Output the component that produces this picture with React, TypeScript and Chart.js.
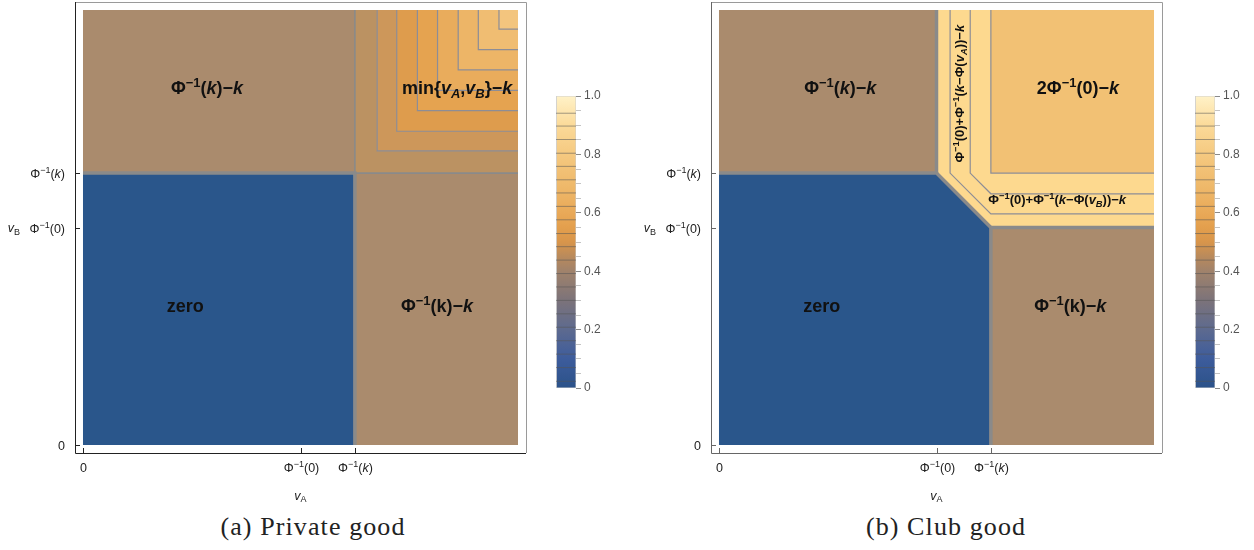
import React, { useEffect, useRef } from 'react';
import { Chart, registerables } from 'chart.js';
Chart.register(...registerables);

const SANS = '"Liberation Sans", Arial, sans-serif';

// ---------- axes (data space 0..8 in both directions) ----------
const axisRange = [-0.147, 8.147];
const tickValues = [0, 4, 5];
const xTickLabels = ['0', 'Φ^{−1}(0)', 'Φ^{−1}(*k*)'];
const yTickLabels = ['0', 'Φ^{−1}(0)', 'Φ^{−1}(*k*)'];
const xAxisTitle = '*v*_{A}';
const yAxisTitle = '*v*_{B}';

// ---------- (a) private good ----------
const privBackground = [[0, 0], [8, 0], [8, 8], [0, 8]];
const privZero = [[0, 0], [5, 0], [5, 5], [0, 5]];
const privMinLevels = [5.0, 5.41, 5.77, 6.15, 6.52, 6.9, 7.27, 7.65];
const privBoundary = [[0, 5], [5, 5], [5, 0]];
const privSeam = [[5, 8], [5, 5], [8, 5]];
const privLabelText = ['Φ^{−1}(*k*)−*k*', 'min{*v*_{*A*},*v*_{*B*}}−*k*', 'zero', 'Φ^{−1}(k)−*k*'];
const privLabelX = [2.28, 6.88, 1.88, 6.51];
const privLabelY = [6.57, 6.57, 2.57, 2.57];

// ---------- (b) club good ----------
const clubBackground = [[0, 0], [8, 0], [8, 8], [0, 8]];
const clubBand = [[4, 8], [4, 5], [5, 4], [8, 4], [8, 8]];
const clubTop = [[5, 5], [8, 5], [8, 8], [5, 8]];
const clubZero = [[0, 0], [5, 0], [5, 4], [4, 5], [0, 5]];
const clubContours = [
  [[4.25, 8], [4.25, 5], [5, 4.25], [8, 4.25]],
  [[4.62, 8], [4.62, 5], [5, 4.62], [8, 4.62]],
  [[5, 8], [5, 5], [8, 5]],
];
const clubBoundaries = [
  [[0, 5], [4, 5], [5, 4], [5, 0]],
  [[4, 8], [4, 5]],
  [[5, 4], [8, 4]],
];
const clubLabelText = [
  'Φ^{−1}(*k*)−*k*',
  '2Φ^{−1}(0)−*k*',
  'zero',
  'Φ^{−1}(k)−*k*',
  'Φ^{−1}(0)+Φ^{−1}(*k*−Φ(*v*_{*A*}))−*k*',
  'Φ^{−1}(0)+Φ^{−1}(*k*−Φ(*v*_{*B*}))−*k*',
];
const clubLabelX = [2.23, 6.6, 1.89, 6.46, 4.42, 6.22];
const clubLabelY = [6.57, 6.57, 2.57, 2.57, 6.46, 4.52];

// ---------- colour bar ----------
const colorbarLevels = [0.023, 0.07, 0.116, 0.162, 0.208, 0.254, 0.3, 0.346, 0.392, 0.438, 0.484,
  0.529, 0.576, 0.622, 0.668, 0.713, 0.759, 0.804, 0.851, 0.897, 0.941];
const colorbarStops: [number, string][] = [
  [0, '#2b5289'], [0.1, '#3d5c9c'], [0.2, '#5d6a8f'], [0.3, '#7c737a'], [0.4, '#a0826b'],
  [0.45, '#b98a5c'], [0.5, '#d8954b'], [0.55, '#e39f4d'], [0.6, '#e9a958'], [0.7, '#efba6c'],
  [0.8, '#f5c980'], [0.9, '#fbda99'], [1, '#fff2c8'],
];

// ---------- styles ----------
const BLUE = '#2a568b';
const BROWN = '#aa8b6d';
const privMinColors = ['#bb9262', '#cd975a', '#de9c4d', '#e5a350', '#e9ac5c', '#edb567', '#f0bd72', '#f3c57e'];
const CLUB_BAND = '#fdd98f';
const CLUB_TOP = '#f2c174';
const CONTOUR = '#8d8d96';
const EDGE = '#8a8a8a';

type Seg = { t: string; it: boolean; sup: boolean; sub: boolean };
function parseRich(s: string): Seg[] {
  const segs: Seg[] = [];
  let it = false;
  let mode = '';
  let buf = '';
  const push = () => {
    if (buf) segs.push({ t: buf, it, sup: mode === 'sup', sub: mode === 'sub' });
    buf = '';
  };
  for (let i = 0; i < s.length; i++) {
    const c = s[i];
    if ((c === '^' || c === '_') && s[i + 1] === '{') { push(); mode = c === '^' ? 'sup' : 'sub'; i++; continue; }
    if (c === '}' && mode) { push(); mode = ''; continue; }
    if (c === '*') { push(); it = !it; continue; }
    buf += c;
  }
  push();
  return segs;
}

function drawRich(ctx: any, s: string, x: number, y: number, size: number, o: any = {}) {
  const segs = parseRich(s);
  const small = size * 0.72;
  const font = (sg: Seg) => `${sg.it ? 'italic ' : ''}${o.bold ? 'bold ' : ''}${sg.sup || sg.sub ? small : size}px ${SANS}`;
  let w = 0;
  for (const sg of segs) { ctx.font = font(sg); w += ctx.measureText(sg.t).width; }
  ctx.save();
  ctx.translate(x, y);
  if (o.rotate) ctx.rotate(o.rotate);
  ctx.fillStyle = o.color || '#111';
  ctx.textBaseline = 'alphabetic';
  ctx.textAlign = 'left';
  let cx = o.align === 'center' ? -w / 2 : o.align === 'right' ? -w : 0;
  const base = size * 0.36;
  for (const sg of segs) {
    ctx.font = font(sg);
    const dy = sg.sup ? -size * 0.4 : sg.sub ? size * 0.22 : 0;
    ctx.fillText(sg.t, cx, base + dy);
    cx += ctx.measureText(sg.t).width;
  }
  ctx.restore();
}

const pts = (p: number[][]) => p.map(([x, y]) => ({ x, y }));
const poly = (p: number[][], color: string) => ({
  data: pts(p), showLine: true, fill: 'shape', backgroundColor: color,
  borderColor: 'rgba(0,0,0,0)', borderWidth: 0, pointRadius: 0,
});
const line = (p: number[][], color: string, width: number) => ({
  data: pts(p), showLine: true, fill: false, borderColor: color, borderWidth: width, pointRadius: 0,
});

function privDatasets() {
  const ds: any[] = [poly(privBackground, BROWN)];
  privMinLevels.forEach((l, i) => ds.push(poly([[l, l], [8, l], [8, 8], [l, 8]], privMinColors[i])));
  ds.push(poly(privZero, BLUE));
  privMinLevels.slice(1).forEach((l) => ds.push(line([[8, l], [l, l], [l, 8]], CONTOUR, 1.2)));
  ds.push(line(privSeam, EDGE, 1.6));
  ds.push(line(privBoundary, EDGE, 3.5));
  return ds;
}

function clubDatasets() {
  const ds: any[] = [poly(clubBackground, BROWN), poly(clubBand, CLUB_BAND), poly(clubTop, CLUB_TOP), poly(clubZero, BLUE)];
  clubContours.forEach((c) => ds.push(line(c, CONTOUR, 1.2)));
  clubBoundaries.forEach((c) => ds.push(line(c, EDGE, 3.5)));
  return ds;
}

function Panel({ left, build, labelText, labelX, labelY, axisColor }: any) {
  const ref = useRef<HTMLCanvasElement>(null);
  useEffect(() => {
    const list = build();
    const n = list.length;
    const datasets = list.map((d: any, i: number) => ({ ...d, order: n - i }));
    const deco = {
      id: 'deco',
      afterDraw(chart: any) {
        const { ctx, chartArea: a, scales } = chart;
        const x = scales.x, y = scales.y;
        ctx.save();
        ctx.lineWidth = 1;
        ctx.strokeStyle = '#9a9a9a';
        ctx.beginPath();
        ctx.moveTo(a.left, a.top + 0.5); ctx.lineTo(a.right + 0.5, a.top + 0.5); ctx.lineTo(a.right + 0.5, a.bottom);
        ctx.stroke();
        ctx.strokeStyle = axisColor;
        ctx.beginPath();
        ctx.moveTo(a.left + 0.5, a.top); ctx.lineTo(a.left + 0.5, a.bottom + 0.5); ctx.lineTo(a.right, a.bottom + 0.5);
        ctx.stroke();
        tickValues.forEach((v, i) => {
          const px = Math.round(x.getPixelForValue(v)) + 0.5;
          ctx.strokeStyle = axisColor;
          ctx.beginPath(); ctx.moveTo(px, a.bottom); ctx.lineTo(px, a.bottom - 5); ctx.stroke();
          drawRich(ctx, xTickLabels[i], px, a.bottom + 14, 12.5, { align: 'center', color: '#222' });
          const py = Math.round(y.getPixelForValue(v)) + 0.5;
          ctx.beginPath(); ctx.moveTo(a.left, py); ctx.lineTo(a.left + 5, py); ctx.stroke();
          drawRich(ctx, yTickLabels[i], a.left - 10, py, 12.5, { align: 'right', color: '#222' });
        });
        drawRich(ctx, xAxisTitle, (a.left + a.right) / 2, a.bottom + 42, 12.5, { align: 'center', color: '#222' });
        drawRich(ctx, yAxisTitle, a.left - 61, (a.top + a.bottom) / 2, 12.5, { align: 'center', color: '#222' });
        labelText.forEach((t: string, i: number) => {
          const rot = t.indexOf('_{*A*}))') >= 0;
          const big = t.length < 30;
          drawRich(ctx, t, x.getPixelForValue(labelX[i]), y.getPixelForValue(labelY[i]), big ? 18 : 13,
            { bold: true, align: 'center', color: '#111', rotate: rot ? -Math.PI / 2 : 0 });
        });
        ctx.restore();
      },
    };
    const chart = new Chart(ref.current as any, {
      type: 'scatter',
      data: { datasets },
      options: {
        animation: false,
        responsive: false,
        devicePixelRatio: 1,
        events: [],
        layout: { padding: { left: 75, right: 19, top: 2, bottom: 57 } },
        plugins: { legend: { display: false }, tooltip: { enabled: false } },
        scales: {
          x: { type: 'linear', min: axisRange[0], max: axisRange[1], display: false },
          y: { type: 'linear', min: axisRange[0], max: axisRange[1], display: false },
        },
      } as any,
      plugins: [deco],
    });
    return () => chart.destroy();
  }, []);
  return <canvas ref={ref} width={545} height={510} style={{ position: 'absolute', left, top: 0 }} />;
}

function ColorBar({ left }: any) {
  const ref = useRef<HTMLCanvasElement>(null);
  useEffect(() => {
    const gradient = (c: any) => {
      const chart = c.chart;
      const ca = chart.chartArea;
      if (!ca) return colorbarStops[0][1];
      const g = chart.ctx.createLinearGradient(0, ca.bottom, 0, ca.top);
      colorbarStops.forEach(([p, col]) => g.addColorStop(p, col));
      return g;
    };
    const datasets: any[] = [
      ...colorbarLevels.map((l) => line([[0, l], [1, l]], 'rgba(85,85,85,0.55)', 1)),
      {
        data: pts([[0, 0], [1, 0], [1, 1], [0, 1], [0, 0]]), showLine: true, fill: 'shape',
        backgroundColor: gradient, borderColor: '#cfcfcf', borderWidth: 1, pointRadius: 0,
      },
    ];
    const chart = new Chart(ref.current as any, {
      type: 'scatter',
      data: { datasets },
      options: {
        animation: false,
        responsive: false,
        devicePixelRatio: 1,
        events: [],
        layout: { padding: { left: 11, right: 5, top: 16, bottom: 22 } },
        plugins: { legend: { display: false }, tooltip: { enabled: false } },
        scales: {
          x: { type: 'linear', min: 0, max: 1, display: false },
          y: {
            type: 'linear', min: 0, max: 1, position: 'right',
            afterFit: (s: any) => { s.width = 39; },
            border: { display: false },
            grid: {
              drawOnChartArea: false, tickLength: 5,
              tickColor: (c: any) => (Math.round((c.tick?.value ?? 0) * 100) % 20 === 0 ? '#8a8a8a' : '#c4c4c4'),
            },
            ticks: {
              stepSize: 0.05, autoSkip: false, padding: 3, color: '#555',
              font: { family: SANS, size: 12 },
              callback: (v: any) => {
                const r = Math.round(Number(v) * 100);
                return r % 20 === 0 ? (r === 0 ? '0' : (r / 100).toFixed(1)) : '';
              },
            },
          },
        },
      } as any,
    });
    return () => chart.destroy();
  }, []);
  return <canvas ref={ref} width={75} height={330} style={{ position: 'absolute', left, top: 80 }} />;
}

export default function App() {
  useEffect(() => {
    document.body.style.margin = '0';
  }, []);
  const cap = {
    position: 'absolute' as const, top: 512, textAlign: 'center' as const,
    fontFamily: '"Liberation Serif", serif', fontSize: 26, lineHeight: '30px', color: '#222', letterSpacing: 1.1,
  };
  return (
    <div style={{ position: 'relative', width: 1254, height: 550, background: '#fff', overflow: 'hidden' }}>
      <Panel left={0} build={privDatasets} labelText={privLabelText} labelX={privLabelX} labelY={privLabelY} axisColor="#222" />
      <ColorBar left={545} />
      <Panel left={636} build={clubDatasets} labelText={clubLabelText} labelX={clubLabelX} labelY={clubLabelY} axisColor="#666" />
      <ColorBar left={1184} />
      <div style={{ ...cap, left: 0, width: 626 }}>(a) Private good</div>
      <div style={{ ...cap, left: 646, width: 600 }}>(b) Club good</div>
    </div>
  );
}
